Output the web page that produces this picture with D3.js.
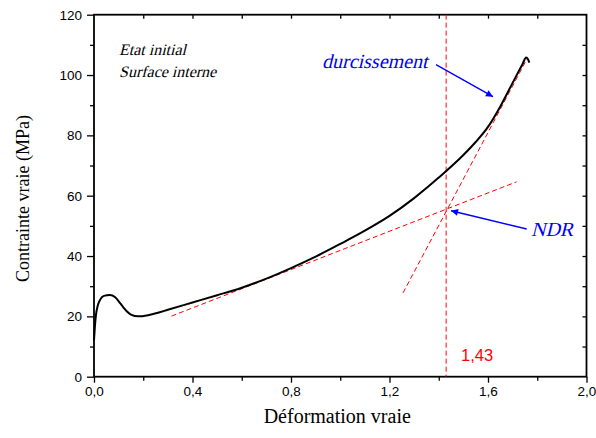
<!DOCTYPE html>
<html>
<head>
<meta charset="utf-8">
<script src="https://cdn.jsdelivr.net/npm/d3@7"></script>
<style>
  html, body { margin: 0; padding: 0; background: #fff; }
  svg { display: block; }
</style>
</head>
<body>
<svg id="chart" width="596" height="438"></svg>
<script>
// ---- Data ----
const strain = [0.000, 0.004, 0.008, 0.015, 0.024, 0.040, 0.065, 0.085, 0.106, 0.120, 0.133, 0.150, 0.180, 0.220, 0.260, 0.300, 0.400, 0.500, 0.600, 0.700, 0.800, 0.900, 1.000, 1.100, 1.200, 1.300, 1.400, 1.500, 1.550, 1.600, 1.650, 1.700, 1.740, 1.755, 1.762, 1.768];
const stress = [12.0, 17.0, 20.5, 23.5, 25.4, 26.8, 27.1, 26.4, 24.4, 22.9, 21.7, 20.6, 20.0, 20.4, 21.2, 22.2, 24.6, 27.0, 29.5, 32.5, 36.0, 39.8, 44.0, 48.4, 53.3, 59.2, 66.0, 73.5, 77.8, 82.8, 89.6, 97.4, 103.6, 105.8, 105.3, 104.1];

const xTicks = [0.0, 0.4, 0.8, 1.2, 1.6, 2.0];
const xTickLabels = ["0,0", "0,4", "0,8", "1,2", "1,6", "2,0"];
const yTicks = [0, 20, 40, 60, 80, 100, 120];

// Tangent / construction lines: [x0, y0, x1, y1]
const ndrLine = [0.315, 20.1, 1.716, 64.6];
const hardeningLine = [1.255, 27.8, 1.760, 105.6];
const ndrStrain = 1.43;
const ndrLabel = "1,43";

// ---- Scales ----
const svg = d3.select("#chart");
const x = d3.scaleLinear().domain([0, 2]).range([94, 586.5]);
const y = d3.scaleLinear().domain([0, 120]).range([376.7, 14.7]);

const tickFont = "'Liberation Sans', Arial, sans-serif";
const serif = "'Liberation Serif', 'Times New Roman', serif";

// ---- Axes ----
svg.append("g").attr("transform", `translate(0,${y(0)})`)
  .call(d3.axisBottom(x).tickValues(xTicks).tickFormat((d, i) => xTickLabels[i]).tickSize(6).tickPadding(4));
svg.append("g").attr("transform", `translate(0,${y(0)})`)
  .call(d3.axisBottom(x).tickValues([0.2, 0.6, 1.0, 1.4, 1.8]).tickFormat("").tickSize(4).tickSizeOuter(0));
svg.append("g").attr("transform", `translate(${x(0)},0)`)
  .call(d3.axisLeft(y).tickValues(yTicks).tickFormat(d3.format("d")).tickSize(7).tickPadding(5));
svg.append("g").attr("transform", `translate(${x(0)},0)`)
  .call(d3.axisLeft(y).tickValues([10, 30, 50, 70, 90, 110]).tickFormat("").tickSize(4).tickSizeOuter(0));
svg.append("g").attr("transform", `translate(0,${y(120)})`)
  .call(d3.axisBottom(x).tickValues(d3.range(0.2, 2.0, 0.2)).tickFormat("").tickSize(4).tickSizeOuter(0));
svg.append("g").attr("transform", `translate(${x(2)},0)`)
  .call(d3.axisLeft(y).tickValues(d3.range(10, 120, 10)).tickFormat("").tickSize(4).tickSizeOuter(0));

svg.selectAll(".domain").remove();
svg.selectAll(".tick line").attr("stroke", "#000").attr("stroke-width", 1.3);
svg.selectAll(".tick text").attr("font-family", tickFont).attr("font-size", 13.5).attr("fill", "#000");

svg.append("rect")
  .attr("x", x(0)).attr("y", y(120))
  .attr("width", x(2) - x(0)).attr("height", y(0) - y(120))
  .attr("fill", "none").attr("stroke", "#000").attr("stroke-width", 1.8);

// ---- Construction lines ----
const dash = "5,3";
svg.append("line")
  .attr("x1", x(ndrStrain)).attr("x2", x(ndrStrain))
  .attr("y1", y(120)).attr("y2", y(0))
  .attr("stroke", "#ff0000").attr("stroke-width", 1).attr("stroke-dasharray", dash);
[ndrLine, hardeningLine].forEach(l => {
  svg.append("line")
    .attr("x1", x(l[0])).attr("y1", y(l[1]))
    .attr("x2", x(l[2])).attr("y2", y(l[3]))
    .attr("stroke", "#ff0000").attr("stroke-width", 1).attr("stroke-dasharray", dash);
});

// ---- Curve ----
const pts = strain.map((s, i) => [s, stress[i]]);
svg.append("path")
  .datum(pts)
  .attr("d", d3.line().x(d => x(d[0])).y(d => y(d[1])).curve(d3.curveMonotoneX))
  .attr("fill", "none").attr("stroke", "#000").attr("stroke-width", 2)
  .attr("stroke-linejoin", "round");

// ---- Annotations (italic serif simulated by skew of Liberation Serif) ----
function italicText(px, py, size, color, str) {
  svg.append("g").attr("transform", `translate(${px},${py}) skewX(-14)`)
    .append("text").attr("x", 0).attr("y", 0)
    .attr("font-family", serif).attr("font-size", size)
    .attr("fill", color).text(str);
}
italicText(119, 55, 16, "#000", "Etat initial");
italicText(119, 77, 16, "#000", "Surface interne");
italicText(322, 68.3, 20, "#0000ff", "durcissement");
italicText(531, 236, 20, "#0000ff", "NDR");

svg.append("text").attr("x", 461).attr("y", 361)
  .attr("font-family", tickFont).attr("font-size", 16.5)
  .attr("fill", "#ff0000").text(ndrLabel);

// arrows
const defs = svg.append("defs");
defs.append("marker").attr("id", "arrow")
  .attr("viewBox", "0 0 10 10").attr("refX", 10).attr("refY", 5)
  .attr("markerWidth", 11).attr("markerHeight", 7).attr("markerUnits", "userSpaceOnUse")
  .attr("orient", "auto")
  .append("path").attr("d", "M0,0 L10,5 L0,10 Z").attr("fill", "#0000ff");

svg.append("line").attr("x1", 436).attr("y1", 64.7).attr("x2", 493).attr("y2", 96.7)
  .attr("stroke", "#0000ff").attr("stroke-width", 1.4).attr("marker-end", "url(#arrow)");
svg.append("line").attr("x1", 526.7).attr("y1", 229).attr("x2", 451).attr("y2", 210.7)
  .attr("stroke", "#0000ff").attr("stroke-width", 1.4).attr("marker-end", "url(#arrow)");

// ---- Axis titles ----
svg.append("text").attr("x", x(1) - 3).attr("y", 423)
  .attr("text-anchor", "middle").attr("font-family", serif).attr("font-size", 20)
  .text("Déformation vraie");
svg.append("text")
  .attr("transform", `translate(29,198.5) rotate(-90)`)
  .attr("text-anchor", "middle").attr("font-family", serif).attr("font-size", 18)
  .text("Contrainte vraie (MPa)");
</script>
</body>
</html>
